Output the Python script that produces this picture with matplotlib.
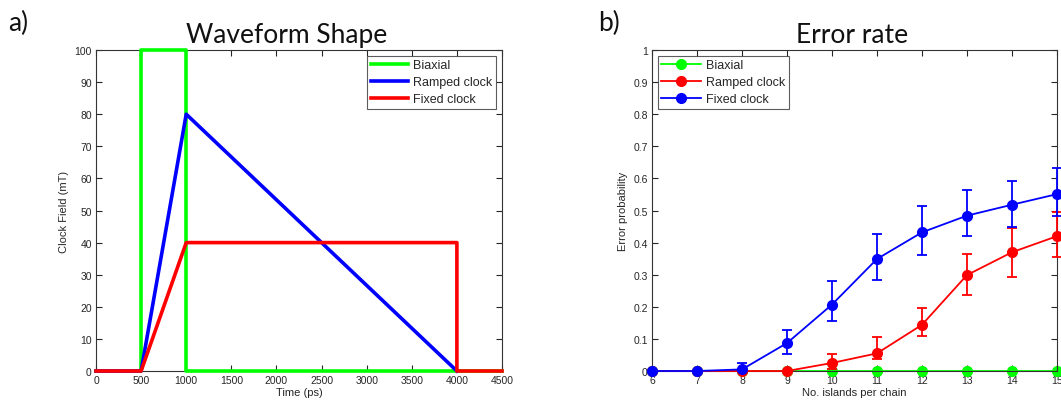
import matplotlib
matplotlib.use("Agg")
import matplotlib.pyplot as plt
import numpy as np

plt.rcParams['font.family'] = ['Liberation Sans', 'DejaVu Sans']

# ---- Panel a data ----
t_biaxial = [0, 500, 500, 1000, 1000, 4500]
b_biaxial = [0, 0, 100, 100, 0, 0]
t_ramped = [0, 500, 1000, 4000]
b_ramped = [0, 0, 80, 0]
t_fixed = [0, 500, 1000, 4000, 4000, 4500]
b_fixed = [0, 0, 40, 40, 0, 0]
a_xticks = [0, 500, 1000, 1500, 2000, 2500, 3000, 3500, 4000, 4500]
a_yticks = [0, 10, 20, 30, 40, 50, 60, 70, 80, 90, 100]

# ---- Panel b data ----
islands = [6, 7, 8, 9, 10, 11, 12, 13, 14, 15]
err_biaxial = [0, 0, 0, 0, 0, 0, 0, 0, 0, 0]
err_ramped = [0, 0, 0, 0, 0.025, 0.055, 0.144, 0.299, 0.370, 0.420]
ramped_lo = [0, 0, 0, 0, 0.02, 0.018, 0.034, 0.062, 0.076, 0.066]
ramped_hi = [0, 0, 0, 0, 0.027, 0.050, 0.051, 0.065, 0.075, 0.074]
err_fixed = [0, 0, 0.005, 0.087, 0.207, 0.349, 0.432, 0.484, 0.518, 0.551]
fixed_lo = [0, 0, 0.005, 0.035, 0.050, 0.065, 0.070, 0.062, 0.070, 0.069]
fixed_hi = [0, 0, 0.020, 0.040, 0.073, 0.078, 0.083, 0.080, 0.073, 0.080]
b_yticks = [0, 0.1, 0.2, 0.3, 0.4, 0.5, 0.6, 0.7, 0.8, 0.9, 1]
b_yticklabels = ['0', '0.1', '0.2', '0.3', '0.4', '0.5', '0.6', '0.7', '0.8', '0.9', '1']

GREEN = '#00ff00'
BLUE = '#0000ff'
RED = '#ff0000'
TXT = '#262626'

W, H = 1061, 410
fig = plt.figure(figsize=(W / 100, H / 100), dpi=100)

def ax_at(x0, y0, x1, y1):
    return fig.add_axes([x0 / W, 1 - y1 / H, (x1 - x0) / W, (y1 - y0) / H])

def style(ax):
    ax.tick_params(direction='in', top=True, right=True, labelsize=7.5,
                   colors=TXT, length=4, width=0.8, pad=3)
    for s in ax.spines.values():
        s.set_color('#333333')
        s.set_linewidth(0.8)

def style_legend(leg):
    leg.get_frame().set_linewidth(0.8)
    for t in leg.get_texts():
        t.set_color(TXT)

LEG = dict(fontsize=9, frameon=True, fancybox=False, edgecolor='#333333',
           borderpad=0.3, labelspacing=0.38, handletextpad=0.4, borderaxespad=0.45)

# Panel a
ax1 = ax_at(96, 51, 502, 372)
ax1.plot(t_biaxial, b_biaxial, color=GREEN, lw=2.6, label='Biaxial', clip_on=False, zorder=3)
ax1.plot(t_ramped, b_ramped, color=BLUE, lw=2.6, label='Ramped clock', clip_on=False, zorder=4)
ax1.plot(t_fixed, b_fixed, color=RED, lw=2.6, label='Fixed clock', clip_on=False, zorder=5)
ax1.set_xlim(0, 4500)
ax1.set_ylim(0, 100)
ax1.set_xticks(a_xticks)
ax1.set_yticks(a_yticks)
style(ax1)
ax1.set_xlabel('Time (ps)', fontsize=8, color=TXT, labelpad=1)
ax1.set_ylabel('Clock Field (mT)', fontsize=8, color=TXT, labelpad=4)
leg1 = ax1.legend(loc='upper right', handlelength=3.0, **LEG)
style_legend(leg1)

# Panel b
ax2 = ax_at(652, 51, 1057, 372)
ax2.errorbar(islands, err_biaxial, color=GREEN, lw=1.3, marker='o', ms=7,
             label='Biaxial', clip_on=False, zorder=2)
ax2.errorbar(islands, err_ramped, yerr=[ramped_lo, ramped_hi], color=RED, lw=1.3,
             marker='o', ms=7, capsize=3.5, elinewidth=1.3, capthick=1.3,
             label='Ramped clock', clip_on=False, zorder=3)
ax2.errorbar(islands, err_fixed, yerr=[fixed_lo, fixed_hi], color=BLUE, lw=1.3,
             marker='o', ms=7, capsize=3.5, elinewidth=1.3, capthick=1.3,
             label='Fixed clock', clip_on=False, zorder=4)
ax2.set_xlim(6, 15)
ax2.set_ylim(0, 1)
ax2.set_xticks(islands)
ax2.set_yticks(b_yticks)
ax2.set_yticklabels(b_yticklabels)
style(ax2)
ax2.set_xlabel('No. islands per chain', fontsize=8, color=TXT, labelpad=1)
ax2.set_ylabel('Error probability', fontsize=8, color=TXT, labelpad=4)
h, l = ax2.get_legend_handles_labels()
hh = [x[0] if hasattr(x, '__getitem__') else x for x in h]
leg2 = ax2.legend(hh, l, loc='upper left', handlelength=3.2, **LEG)
style_legend(leg2)

# Titles and panel labels
TF = ['Lato', 'DejaVu Sans']
fig.text(287 / W, 1 - 43 / H, 'Waveform Shape', fontsize=19, family=TF,
         ha='center', va='baseline', color='#111111')
fig.text(852 / W, 1 - 43 / H, 'Error rate', fontsize=19, family=TF,
         ha='center', va='baseline', color='#111111')
fig.text(8 / W, 1 - 31 / H, 'a)', fontsize=19, family=TF,
         ha='left', va='baseline', color='#111111')
fig.text(598 / W, 1 - 31 / H, 'b)', fontsize=19, family=TF,
         ha='left', va='baseline', color='#111111')

fig.savefig('out.png', dpi=100, facecolor='white')
